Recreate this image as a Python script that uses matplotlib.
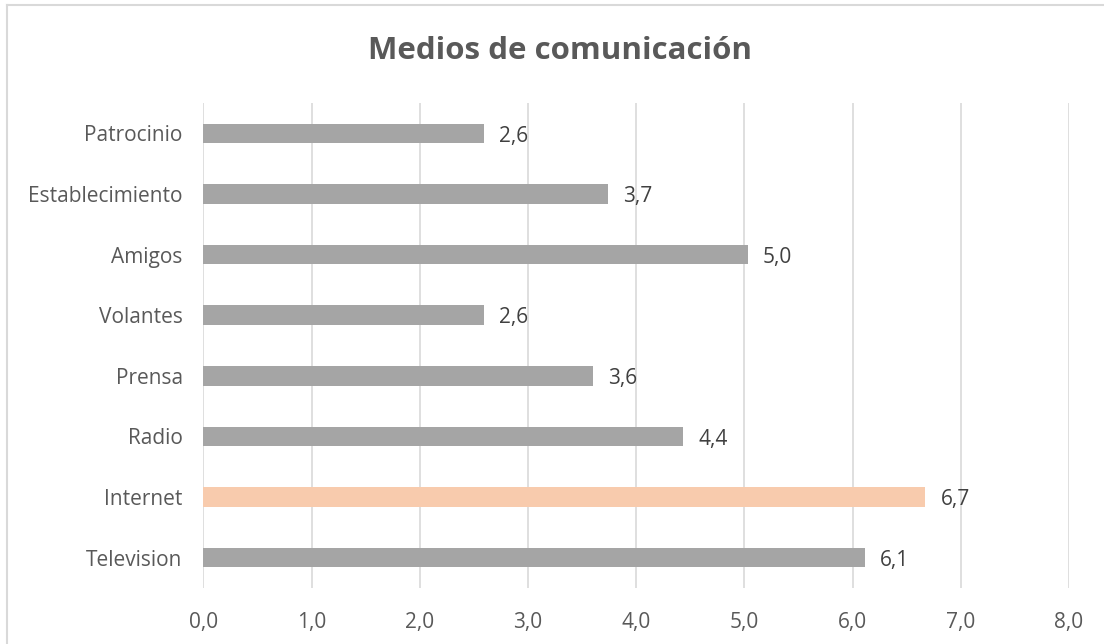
import matplotlib
matplotlib.use("Agg")
import matplotlib.pyplot as plt
from matplotlib.lines import Line2D

# data, bottom to top as drawn
categories = ["Television", "Internet", "Radio", "Prensa", "Volantes",
              "Amigos", "Establecimiento", "Patrocinio"]
values = [6.11, 6.67, 4.43, 3.60, 2.59, 5.03, 3.74, 2.59]
highlight = "Internet"
xticks = [0, 1, 2, 3, 4, 5, 6, 7, 8]

GRAY = "#A5A5A5"
PEACH = "#F8CBAD"
GRID = "#D9D9D9"
TEXT = "#595959"

plt.rcParams["font.family"] = ["Open Sans", "DejaVu Sans"]

fig = plt.figure(figsize=(11.04, 6.44), dpi=100)
ax = fig.add_axes([0.1843, 0.087, 0.7840, 0.753])

colors = [PEACH if c == highlight else GRAY for c in categories]
ypos = list(range(len(categories)))
ax.barh(ypos, values, height=0.32, color=colors, zorder=2)

for y, v in zip(ypos, values):
    ax.annotate(f"{v:.1f}".replace(".", ","), (v, y), xytext=(11, -2),
                textcoords="offset points", va="center", ha="left",
                fontsize=15, color="#404040")

ax.set_xlim(0, 8)
ax.set_ylim(-0.5, len(categories) - 0.5)
ax.set_xticks(xticks)
ax.set_xticklabels([f"{t:.1f}".replace(".", ",") for t in xticks])
ax.set_yticks(ypos)
ax.set_yticklabels(categories)
ax.tick_params(axis="both", length=0, labelsize=15, labelcolor=TEXT)
ax.tick_params(axis="y", pad=15)
ax.tick_params(axis="x", pad=17)
ax.grid(axis="x", color=GRID, linewidth=1.2, zorder=0)
for s in ax.spines.values():
    s.set_visible(False)

fig.text(0.5073, 1 - 51 / 644, "Medios de comunicación", ha="center",
         va="center", fontsize=22.5, fontweight="bold", color=TEXT)

# chart area border (left and top visible)
fig.add_artist(Line2D([7 / 1104, 7 / 1104], [0, 1 - 5 / 644],
                      transform=fig.transFigure, color=GRID, lw=1.5))
fig.add_artist(Line2D([7 / 1104, 1], [1 - 5 / 644, 1 - 5 / 644],
                      transform=fig.transFigure, color=GRID, lw=1.5))

fig.savefig("out.png", dpi=100)
